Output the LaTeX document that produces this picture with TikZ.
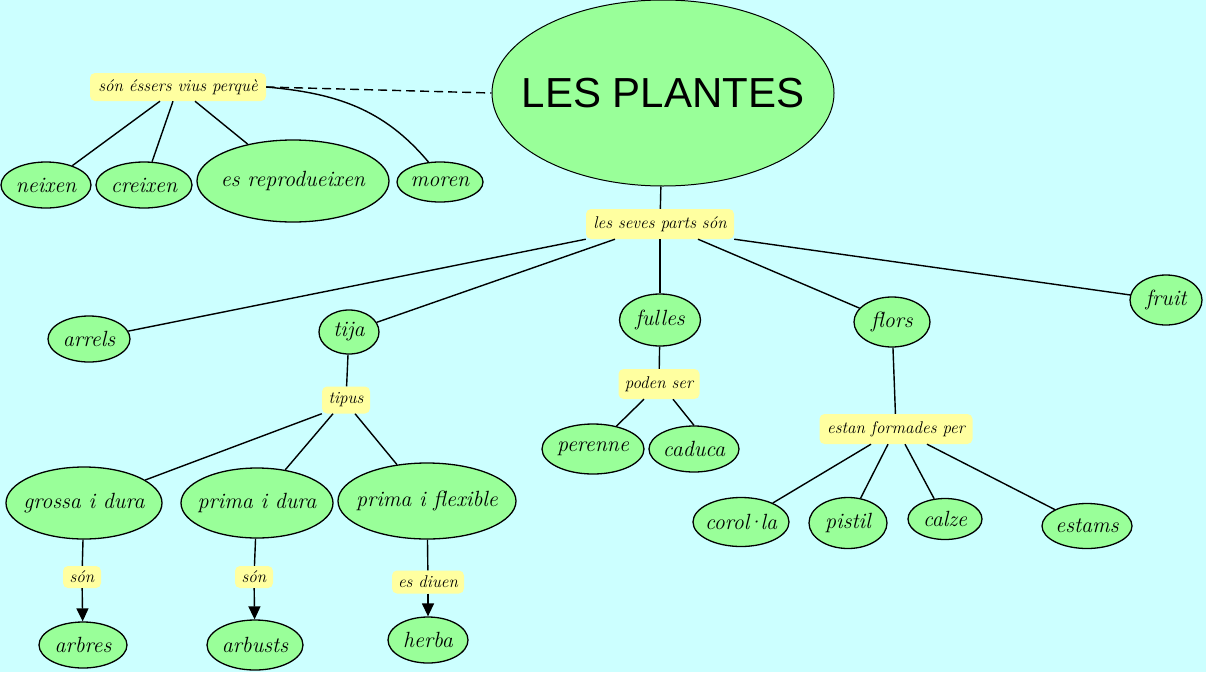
\documentclass[tikz,border=0pt]{standalone}
\usepackage{fontspec}
\usepackage{tikz}
\usetikzlibrary{arrows.meta, shapes.geometric}

\newfontfamily\titlefont{Liberation Sans}
\definecolor{mapbg}{RGB}{204,255,255}
\definecolor{conceptgreen}{RGB}{153,255,153}
\definecolor{linkyellow}{RGB}{255,255,160}
% text of a concept does not widen its ellipse
\newcommand{\ctxt}[1]{\makebox[0pt]{#1}}

\begin{document}
\begin{tikzpicture}[x=1pt, y=-1pt,
    concept/.style={ellipse, draw, line width=1.3pt, fill=conceptgreen, inner sep=0pt,
        font=\fontsize{22}{26}\selectfont\itshape},
    linkbox/.style={rectangle, rounded corners=5pt, fill=linkyellow, inner sep=0pt,
        font=\fontsize{17}{20}\selectfont\itshape},
    dims/.style 2 args={minimum width=#1pt, minimum height=#2pt},
    conn/.style={line width=1.4pt},
    arr/.style={conn, -{Triangle[length=13pt, width=12pt]}}
    ]
    % background
    \fill[mapbg] (0,0) rectangle (1206,672);
    \useasboundingbox (0,0) rectangle (1206,672);

    % main concept
    \node[concept, dims={342}{186}, line width=1pt, font=\titlefont\fontsize{42}{48}\selectfont] (plantes) at (663,93) {\ctxt{LES PLANTES}};

    % living beings branch
    \node[linkbox, dims={176}{28}] (vius) at (178,87) {són éssers vius perquè};
    \node[concept, dims={90}{46}] (neixen) at (46,185) {\ctxt{neixen}};
    \node[concept, dims={96}{46}] (creixen) at (144,185) {\ctxt{creixen}};
    \node[concept, dims={192}{82}] (reprod) at (293,181) {\ctxt{es reprodueixen}};
    \node[concept, dims={86}{40}] (moren) at (440,182) {\ctxt{moren}};

    % parts
    \node[linkbox, dims={148}{30}] (parts) at (660,224) {les seves parts són};
    \node[concept, dims={82}{46}] (arrels) at (89,339) {\ctxt{arrels}};
    \node[concept, dims={60}{44}] (tija) at (349,332) {\ctxt{tija}};
    \node[concept, dims={81}{52}] (fulles) at (660,320) {\ctxt{fulles}};
    \node[concept, dims={76}{50}] (flors) at (892,322) {\ctxt{flors}};
    \node[concept, dims={72}{50}] (fruit) at (1166,300) {\ctxt{fruit}};

    % stem types
    \node[linkbox, dims={48}{27}] (tipus) at (346,400) {tipus};
    \node[concept, dims={156}{72}] (grossa) at (84,503) {\ctxt{grossa i dura}};
    \node[concept, dims={152}{70}] (primadura) at (257,503) {\ctxt{prima i dura}};
    \node[concept, dims={178}{76}] (flexible) at (427,501) {\ctxt{prima i flexible}};
    \node[linkbox, dims={38}{22}] (son1) at (82,577) {són};
    \node[linkbox, dims={38}{22}] (son2) at (254,577) {són};
    \node[linkbox, dims={72}{23}] (diuen) at (428,582) {es diuen};
    \node[concept, dims={88}{46}] (arbres) at (83,645) {\ctxt{arbres}};
    \node[concept, dims={96}{50}] (arbusts) at (255,645) {\ctxt{arbusts}};
    \node[concept, dims={80}{46}] (herba) at (428,640) {\ctxt{herba}};

    % leaves
    \node[linkbox, dims={81}{30}] (poden) at (659,384) {poden ser};
    \node[concept, dims={102}{50}] (perenne) at (593,449) {\ctxt{perenne}};
    \node[concept, dims={90}{46}] (caduca) at (694,449) {\ctxt{caduca}};

    % flowers
    \node[linkbox, dims={153}{30}] (formades) at (896,429) {estan formades per};
    \node[concept, dims={96}{49}] (corolla) at (741,522) {\ctxt{corol\kern-0.12em·\kern-0.12em la}};
    \node[concept, dims={78}{51}] (pistil) at (848,523) {\ctxt{pistil}};
    \node[concept, dims={74}{41}] (calze) at (945,519) {\ctxt{calze}};
    \node[concept, dims={90}{45}] (estams) at (1087,526) {\ctxt{estams}};

    % connectors
    \draw[conn, dash pattern=on 9pt off 5pt] (vius.east) -- (plantes.west);
    \draw[conn] (vius.east) to[out=-5, in=130] (moren.120);
    \draw[conn] ([xshift=-18pt]vius.south) -- (neixen);
    \draw[conn] ([xshift=-5pt]vius.south) -- (creixen);
    \draw[conn] ([xshift=17pt]vius.south) -- (reprod);

    \draw[conn] (plantes) -- (parts);
    \draw[conn] (parts.south west) -- (arrels);
    \draw[conn] ([xshift=-45pt]parts.south) -- (tija);
    \draw[conn] (parts) -- (fulles);
    \draw[conn] ([xshift=38pt]parts.south) -- (flors);
    \draw[conn] (parts.south east) -- (fruit);

    \draw[conn] (tija) -- (tipus);
    \draw[conn] (tipus.south west) -- (grossa);
    \draw[conn] ([xshift=-13pt]tipus.south) -- (primadura);
    \draw[conn] ([xshift=9pt]tipus.south) -- (flexible);
    \draw[conn] (grossa) -- (son1);
    \draw[arr] (son1) -- (arbres);
    \draw[conn] (primadura) -- (son2);
    \draw[arr] (son2) -- (arbusts);
    \draw[conn] (flexible) -- (diuen);
    \draw[arr] (diuen) -- (herba);

    \draw[conn] (fulles) -- (poden);
    \draw[conn] ([xshift=-15pt]poden.south) -- (perenne);
    \draw[conn] ([xshift=14pt]poden.south) -- (caduca.north);

    \draw[conn] (flors) -- (formades);
    \draw[conn] ([xshift=-25pt]formades.south) -- (corolla);
    \draw[conn] ([xshift=-8pt]formades.south) -- (pistil);
    \draw[conn] ([xshift=9pt]formades.south) -- (calze);
    \draw[conn] ([xshift=31pt]formades.south) -- (estams);
\end{tikzpicture}
\end{document}
